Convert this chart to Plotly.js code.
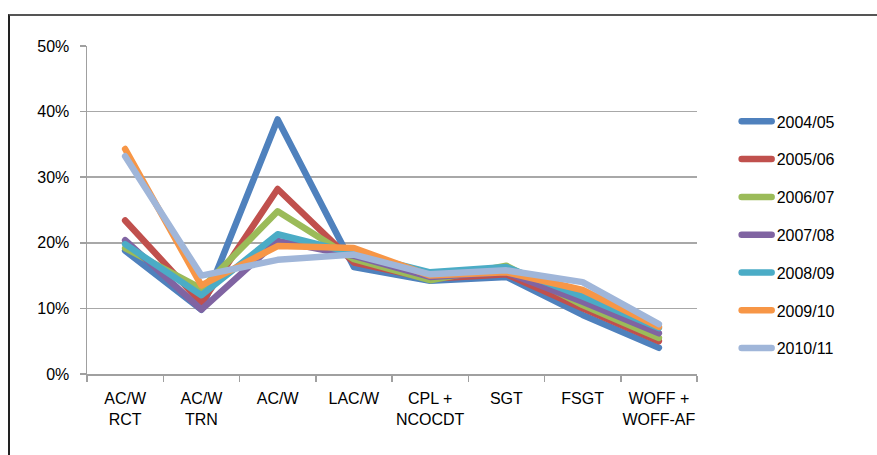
<!DOCTYPE html>
<html>
<head>
<meta charset="utf-8">
<script src="https://cdn.plot.ly/plotly-3.0.1.min.js"></script>
<style>
  html, body { margin: 0; padding: 0; background: #fff; }
  #wrap { position: relative; width: 877px; height: 455px; overflow: hidden; }
  #frame { position: absolute; left: 8px; top: 14px; width: 880px; height: 460px;
           border-top: 2px solid #555; border-left: 2px solid #222; box-sizing: border-box; pointer-events: none; z-index: 5; }
  #chart { position: absolute; left: 0; top: 0; width: 877px; height: 455px; }
  .scatterlayer path.js-line, .legend path.js-line { stroke-linecap: round; stroke-linejoin: round; }
</style>
</head>
<body>
<div id="wrap">
  <div id="chart"></div>
  <div id="frame"></div>
</div>
<script>
const categories = ["AC/W<br>RCT", "AC/W<br>TRN", "AC/W", "LAC/W", "CPL +<br>NCOCDT", "SGT", "FSGT", "WOFF +<br>WOFF-AF"];
const seriesNames = ["2004/05", "2005/06", "2006/07", "2007/08", "2008/09", "2009/10", "2010/11"];
const s2004 = [0.188, 0.098, 0.388, 0.163, 0.142, 0.148, 0.090, 0.040];
const s2005 = [0.234, 0.108, 0.282, 0.170, 0.145, 0.152, 0.100, 0.050];
const s2006 = [0.192, 0.130, 0.248, 0.175, 0.143, 0.165, 0.105, 0.055];
const s2007 = [0.204, 0.098, 0.203, 0.180, 0.148, 0.155, 0.110, 0.062];
const s2008 = [0.198, 0.120, 0.213, 0.185, 0.155, 0.163, 0.118, 0.070];
const s2009 = [0.343, 0.135, 0.195, 0.192, 0.150, 0.155, 0.128, 0.072];
const s2010 = [0.332, 0.150, 0.174, 0.182, 0.152, 0.158, 0.140, 0.076];
const seriesValues = [s2004, s2005, s2006, s2007, s2008, s2009, s2010];
const colors = ["#4F81BD", "#C0504D", "#9BBB59", "#8064A2", "#4BACC6", "#F79646", "#A0B6D9"];
const yTicks = [0, 0.1, 0.2, 0.3, 0.4, 0.5];

const font = "Liberation Sans, Arial, sans-serif";
const traces = seriesNames.map((name, i) => ({
  type: "scatter",
  mode: "lines",
  name: name,
  legendgroup: name,
  x: categories,
  y: seriesValues[i],
  line: { color: colors[i], width: 6.5 },
  hoverinfo: "skip"
}));

const layout = {
  width: 877, height: 455,
  margin: { l: 87, r: 180, t: 46, b: 81 },
  paper_bgcolor: "#ffffff", plot_bgcolor: "#ffffff",
  font: { family: font, size: 16, color: "#000" },
  showlegend: true,
  legend: {
    x: 1.065, xanchor: "left", y: 0.822, yanchor: "top",
    font: { family: font, size: 16, color: "#000" },
    tracegroupgap: 14, traceorder: "grouped",
    bgcolor: "rgba(0,0,0,0)", itemwidth: 30
  },
  xaxis: {
    type: "category",
    range: [-0.5, 7.5],
    showgrid: false,
    showline: true, linecolor: "#a0a0a0", linewidth: 1.5,
    ticks: "outside", tickson: "boundaries", ticklen: 6, tickcolor: "#a0a0a0", tickwidth: 1.5,
    tickangle: 0,
    tickfont: { family: font, size: 16, color: "#000" },
    ticklabelstandoff: 9,
    fixedrange: true
  },
  yaxis: {
    range: [0, 0.5],
    tickvals: yTicks,
    tickformat: ".0%",
    showgrid: true, gridcolor: "#a8a8a8", gridwidth: 1.5,
    zeroline: false,
    showline: true, linecolor: "#a0a0a0", linewidth: 1.5,
    ticks: "outside", ticklen: 6, tickcolor: "#a0a0a0", tickwidth: 1.5,
    tickfont: { family: font, size: 16, color: "#000" },
    ticklabelstandoff: 7,
    fixedrange: true
  }
};

Plotly.newPlot("chart", traces, layout, { displayModeBar: false, staticPlot: true });
</script>
</body>
</html>
